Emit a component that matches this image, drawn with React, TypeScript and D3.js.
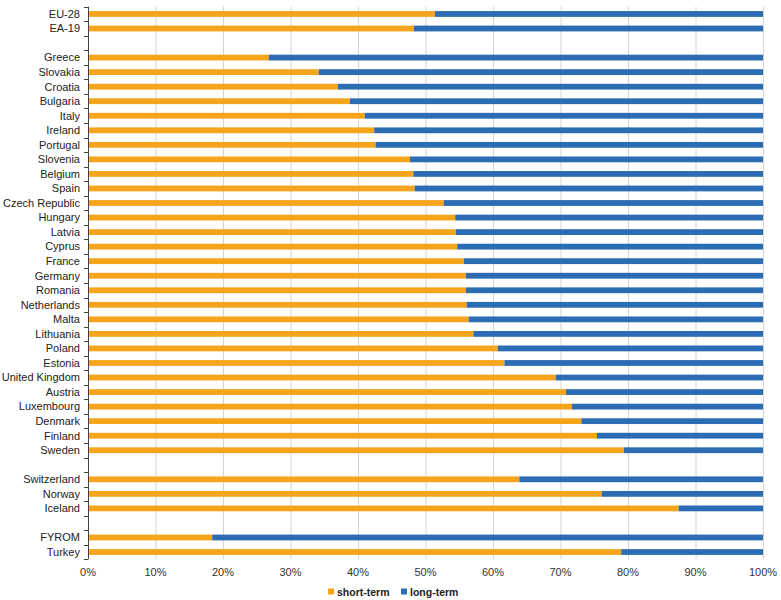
import React from "react";
import * as d3 from "d3";

const aggregates = ["EU-28", "EA-19"];
const aggregateShort = [51.4, 48.3];
const memberStates = [
  "Greece", "Slovakia", "Croatia", "Bulgaria", "Italy", "Ireland", "Portugal",
  "Slovenia", "Belgium", "Spain", "Czech Republic", "Hungary", "Latvia", "Cyprus",
  "France", "Germany", "Romania", "Netherlands", "Malta", "Lithuania", "Poland",
  "Estonia", "United Kingdom", "Austria", "Luxembourg", "Denmark", "Finland", "Sweden",
];
const memberShort = [
  26.8, 34.2, 37.0, 38.8, 41.0, 42.4, 42.6, 47.7, 48.2, 48.4, 52.7, 54.4, 54.5, 54.7,
  55.7, 56.0, 56.0, 56.1, 56.4, 57.1, 60.7, 61.7, 69.3, 70.8, 71.7, 73.1, 75.4, 79.4,
];
const efta = ["Switzerland", "Norway", "Iceland"];
const eftaShort = [63.9, 76.1, 87.5];
const candidates = ["FYROM", "Turkey"];
const candidateShort = [18.4, 79.0];
const xTicks = [0, 10, 20, 30, 40, 50, 60, 70, 80, 90, 100];
const seriesNames = ["short-term", "long-term"];
const seriesColors = ["#F7A41D", "#2B6CB3"];

type Row = { key: string; label: string; short: number | null };

function buildRows(): Row[] {
  const rows: Row[] = [];
  const groups: [string[], number[]][] = [
    [aggregates, aggregateShort],
    [memberStates, memberShort],
    [efta, eftaShort],
    [candidates, candidateShort],
  ];
  groups.forEach(([names, vals], gi) => {
    if (gi > 0) rows.push({ key: "gap" + gi, label: "", short: null });
    names.forEach((n, i) => rows.push({ key: n, label: n, short: vals[i] }));
  });
  return rows;
}

export default function App() {
  const W = 781, H = 600;
  const left = 88, right = 763, top = 6.7, bottom = 559.3;
  const rows = buildRows();
  const x = d3.scaleLinear().domain([0, 100]).range([left, right]);
  const y = d3.scaleBand<string>().domain(rows.map(r => r.key)).range([top, bottom]).paddingInner(0).paddingOuter(0);
  const bw = y.bandwidth();
  const barH = 5.8;
  const font = "'Liberation Sans', Arial, sans-serif";
  const boundaries = d3.range(rows.length + 1).map(i => top + i * bw);

  return (
    <div style={{ position: "absolute", left: 0, top: 0 }}>
      <svg width={W} height={H} style={{ display: "block", background: "#fff" }}>
        {xTicks.map(t => (
          <line key={"g" + t} x1={x(t) + 0.5} x2={x(t) + 0.5} y1={top} y2={bottom} stroke="#d4d4d4" strokeWidth={1} />
        ))}
        {rows.filter(r => r.short !== null).map(r => {
          const cy = (y(r.key) as number) + bw / 2;
          const s = r.short as number;
          return (
            <g key={r.key}>
              <rect x={x(0)} y={cy - barH / 2} width={x(s) - x(0)} height={barH} fill={seriesColors[0]} />
              <rect x={x(s)} y={cy - barH / 2} width={x(100) - x(s)} height={barH} fill={seriesColors[1]} />
            </g>
          );
        })}
        <line x1={left + 0.5} x2={left + 0.5} y1={top} y2={bottom} stroke="#444" strokeWidth={1} />
        {boundaries.map((b, i) => (
          <line key={"t" + i} x1={left - 4} x2={left} y1={Math.round(b) + 0.5} y2={Math.round(b) + 0.5} stroke="#444" strokeWidth={1} />
        ))}
        {rows.filter(r => r.label).map(r => (
          <text key={"l" + r.key} x={80} y={(y(r.key) as number) + bw / 2} dy="0.35em" textAnchor="end"
            fontFamily={font} fontSize={11} fill="#222">{r.label}</text>
        ))}
        {xTicks.map(t => (
          <text key={"x" + t} x={x(t)} y={572} dy="0.35em" textAnchor="middle" fontFamily={font} fontSize={11} fill="#333">{t}%</text>
        ))}
        <g fontFamily={font} fontSize={10.5} fontWeight="bold" fill="#222">
          <rect x={328} y={588.5} width={6} height={6} fill={seriesColors[0]} />
          <text x={337} y={592} dy="0.35em">{seriesNames[0]}</text>
          <rect x={401} y={588.5} width={6} height={6} fill={seriesColors[1]} />
          <text x={410} y={592} dy="0.35em">{seriesNames[1]}</text>
        </g>
      </svg>
    </div>
  );
}
